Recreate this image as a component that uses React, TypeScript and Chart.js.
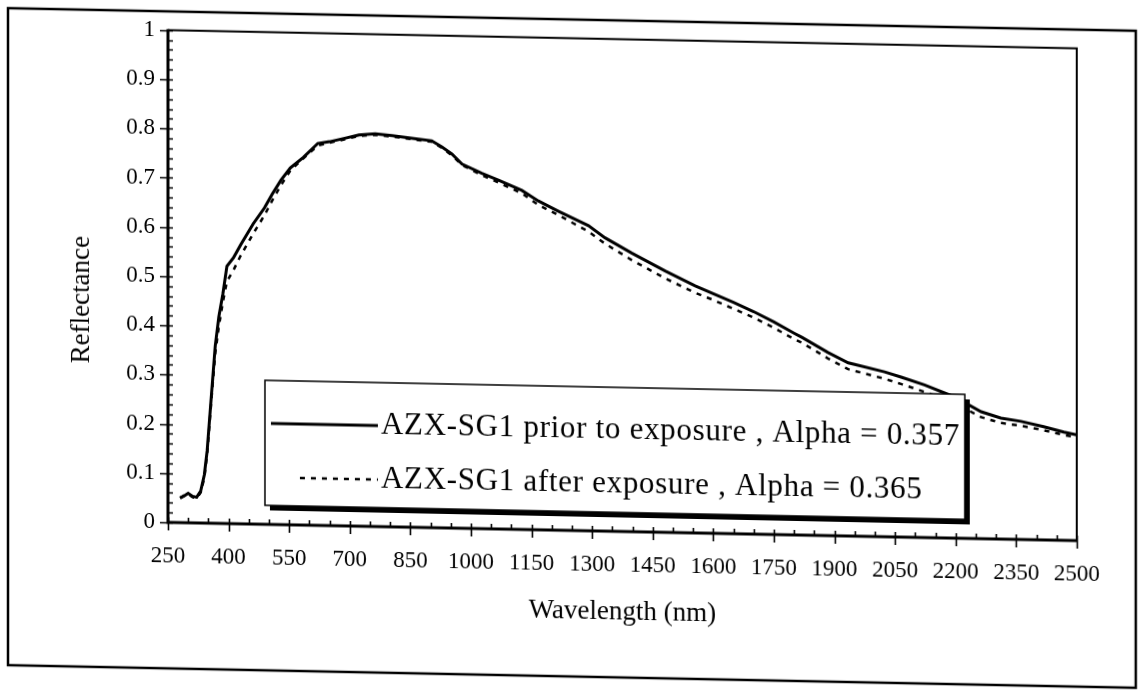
import React, { useEffect, useRef } from 'react';
import { Chart, registerables } from 'chart.js';

Chart.register(...registerables);

// ---- data ----
const wavelengths = [
  280, 291, 300, 311, 321, 331, 340, 347, 357, 367, 376, 386, 396, 412, 430, 461, 489, 508, 530, 553,
  585, 621, 650, 690, 723, 763, 805, 870, 903, 928, 953, 978, 1027, 1068, 1126, 1167, 1217, 1291, 1332,
  1398, 1481, 1555, 1600, 1650, 1700, 1750, 1800, 1819, 1884, 1934, 2024, 2065, 2123, 2197, 2263, 2312,
  2362, 2418, 2468, 2500,
];
const priorExposure = [
  0.05, 0.055, 0.06, 0.054, 0.052, 0.065, 0.098, 0.147, 0.254, 0.36, 0.42, 0.467, 0.523, 0.54, 0.567,
  0.61, 0.643, 0.671, 0.7, 0.725, 0.747, 0.776, 0.78, 0.788, 0.795, 0.798, 0.795, 0.789, 0.786, 0.774,
  0.76, 0.74, 0.722, 0.709, 0.689, 0.668, 0.648, 0.62, 0.596, 0.566, 0.531, 0.502, 0.487, 0.47, 0.452,
  0.432, 0.41, 0.402, 0.372, 0.352, 0.335, 0.325, 0.31, 0.287, 0.258, 0.246, 0.24, 0.23, 0.22, 0.215,
];
const afterExposure = [
  0.05, 0.055, 0.058, 0.052, 0.05, 0.062, 0.092, 0.14, 0.245, 0.345, 0.4, 0.45, 0.492, 0.515, 0.545,
  0.59, 0.628, 0.658, 0.69, 0.72, 0.745, 0.772, 0.778, 0.786, 0.793, 0.796, 0.793, 0.787, 0.784, 0.772,
  0.757, 0.738, 0.718, 0.704, 0.683, 0.66, 0.64, 0.608, 0.584, 0.552, 0.516, 0.488, 0.474, 0.457, 0.44,
  0.42, 0.398, 0.391, 0.36, 0.339, 0.321, 0.311, 0.296, 0.275, 0.247, 0.236, 0.231, 0.223, 0.214, 0.21,
];
const seriesLabels = [
  'AZX-SG1 prior to exposure , Alpha = 0.357',
  'AZX-SG1 after exposure , Alpha = 0.365',
];
const xTickLabels = [250, 400, 550, 700, 850, 1000, 1150, 1300, 1450, 1600, 1750, 1900, 2050, 2200, 2350, 2500];
const yTickLabels = [0, 0.1, 0.2, 0.3, 0.4, 0.5, 0.6, 0.7, 0.8, 0.9, 1];
const xMinorStep = 50;
const yMinorStep = 0.02;
const xTitle = 'Wavelength (nm)';
const yTitle = 'Reflectance';

const FONT = '"Liberation Serif", "Times New Roman", serif';

const decorPlugin = {
  id: 'decor',
  afterDatasetsDraw(chart: any) {
    const { ctx, chartArea: a, scales } = chart;
    const xs = scales.x;
    const ys = scales.y;
    ctx.save();
    ctx.strokeStyle = '#000';
    ctx.lineCap = 'butt';
    // top & right frame
    ctx.lineWidth = 2;
    ctx.beginPath();
    ctx.moveTo(a.left, a.top);
    ctx.lineTo(a.right, a.top);
    ctx.lineTo(a.right, a.bottom);
    ctx.stroke();
    // axes
    ctx.lineWidth = 3;
    ctx.beginPath();
    ctx.moveTo(a.left, a.top - 1);
    ctx.lineTo(a.left, a.bottom);
    ctx.lineTo(a.right + 1, a.bottom);
    ctx.stroke();
    // ticks
    ctx.lineWidth = 1.6;
    ctx.beginPath();
    const xMin = xTickLabels[0];
    const xMax = xTickLabels[xTickLabels.length - 1];
    for (let v = xMin; v <= xMax + 1e-6; v += xMinorStep) {
      const px = Math.round(xs.getPixelForValue(v)) + 0.5;
      const major = xTickLabels.includes(v);
      ctx.moveTo(px, a.bottom - 5);
      ctx.lineTo(px, major ? a.bottom + 8 : a.bottom);
    }
    const yMax = yTickLabels[yTickLabels.length - 1];
    const nY = Math.round(yMax / yMinorStep);
    for (let i = 0; i <= nY; i++) {
      const v = i * yMinorStep;
      const py = Math.round(ys.getPixelForValue(v)) + 0.5;
      const major = i % 5 === 0;
      ctx.moveTo(major ? a.left - 8 : a.left, py);
      ctx.lineTo(a.left + 5, py);
    }
    ctx.stroke();
    ctx.restore();
  },
  afterDraw(chart: any) {
    const { ctx } = chart;
    ctx.save();
    // outer frame
    ctx.strokeStyle = '#000';
    ctx.lineWidth = 2.5;
    ctx.strokeRect(8, 8, 1128, 657);
    // y axis title
    ctx.fillStyle = '#000';
    ctx.font = `27px ${FONT}`;
    ctx.textAlign = 'center';
    ctx.textBaseline = 'middle';
    ctx.save();
    ctx.translate(82, 298);
    ctx.rotate(-Math.PI / 2);
    ctx.fillText(yTitle, 0, 0);
    ctx.restore();
    // legend
    const lx = 265, ly = 375, lw = 700, lh = 125;
    ctx.fillStyle = '#000';
    ctx.fillRect(lx + 5, ly + 5, lw, lh);
    ctx.fillStyle = '#fff';
    ctx.fillRect(lx, ly, lw, lh);
    ctx.lineWidth = 1.5;
    ctx.strokeRect(lx, ly, lw, lh);
    const rows = [418, 472];
    const starts = [271, 300];
    chart.data.datasets.forEach((ds: any, i: number) => {
      const y = rows[i];
      ctx.strokeStyle = ds.borderColor;
      ctx.lineWidth = ds.borderWidth;
      ctx.setLineDash(ds.borderDash || []);
      ctx.beginPath();
      ctx.moveTo(starts[i], y);
      ctx.lineTo(378, y);
      ctx.stroke();
      ctx.setLineDash([]);
      ctx.fillStyle = '#000';
      ctx.font = `31px ${FONT}`;
      try {
        (ctx as any).letterSpacing = '0.7px';
      } catch (e) {
        /* ignore */
      }
      ctx.textAlign = 'left';
      ctx.textBaseline = 'middle';
      ctx.fillText(ds.label, 381, y);
      try {
        (ctx as any).letterSpacing = '0px';
      } catch (e) {
        /* ignore */
      }
    });
    ctx.restore();
  },
};

export default function App() {
  const ref = useRef<HTMLCanvasElement | null>(null);

  useEffect(() => {
    if (!ref.current) return;
    const chart = new Chart(ref.current, {
      type: 'line',
      data: {
        datasets: [
          {
            label: seriesLabels[0],
            data: wavelengths.map((w, i) => ({ x: w, y: priorExposure[i] })),
            borderColor: '#000',
            borderWidth: 3,
            pointRadius: 0,
            tension: 0,
            fill: false,
          },
          {
            label: seriesLabels[1],
            data: wavelengths.map((w, i) => ({ x: w, y: afterExposure[i] })),
            borderColor: '#000',
            borderWidth: 2.5,
            borderDash: [5, 6],
            pointRadius: 0,
            tension: 0,
            fill: false,
          },
        ],
      },
      options: {
        responsive: false,
        animation: false,
        events: [],
        layout: { padding: { left: 0, top: 20, right: 63, bottom: 0 } },
        plugins: { legend: { display: false }, tooltip: { enabled: false } },
        scales: {
          x: {
            type: 'linear',
            min: xTickLabels[0],
            max: xTickLabels[xTickLabels.length - 1],
            afterBuildTicks: (s: any) => {
              s.ticks = xTickLabels.map((v) => ({ value: v }));
            },
            afterFit: (s: any) => {
              s.height = 171;
            },
            grid: { display: false, drawTicks: false },
            border: { display: false },
            ticks: {
              padding: 20,
              color: '#000',
              maxRotation: 0,
              autoSkip: false,
              font: { family: FONT, size: 23 },
              callback: (v: any) => String(v),
            },
            title: {
              display: true,
              text: xTitle,
              color: '#000',
              font: { family: FONT, size: 27 },
              padding: { top: 0, bottom: 74 },
            },
          },
          y: {
            type: 'linear',
            min: yTickLabels[0],
            max: yTickLabels[yTickLabels.length - 1],
            afterBuildTicks: (s: any) => {
              s.ticks = yTickLabels.map((v) => ({ value: v }));
            },
            afterFit: (s: any) => {
              s.width = 168;
            },
            grid: { display: false, drawTicks: false },
            border: { display: false },
            ticks: {
              padding: 13,
              color: '#000',
              autoSkip: false,
              font: { family: FONT, size: 23 },
              callback: (v: any) => String(Number(Number(v).toFixed(1))),
            },
            title: { display: false },
          },
        },
      },
      plugins: [decorPlugin],
    } as any);
    return () => chart.destroy();
  }, []);

  return (
    <div style={{ position: 'fixed', left: 0, top: 0, width: '100vw', height: '100vh', overflow: 'hidden', background: '#fff' }}>
      <div
        style={{
          position: 'absolute',
          left: 0,
          top: 0,
          width: 1140,
          height: 690,
          transform: 'skewY(1.15deg)',
          transformOrigin: '0 0',
        }}
      >
        <canvas ref={ref} width={1140} height={690} style={{ display: 'block', width: 1140, height: 690 }} />
      </div>
    </div>
  );
}
